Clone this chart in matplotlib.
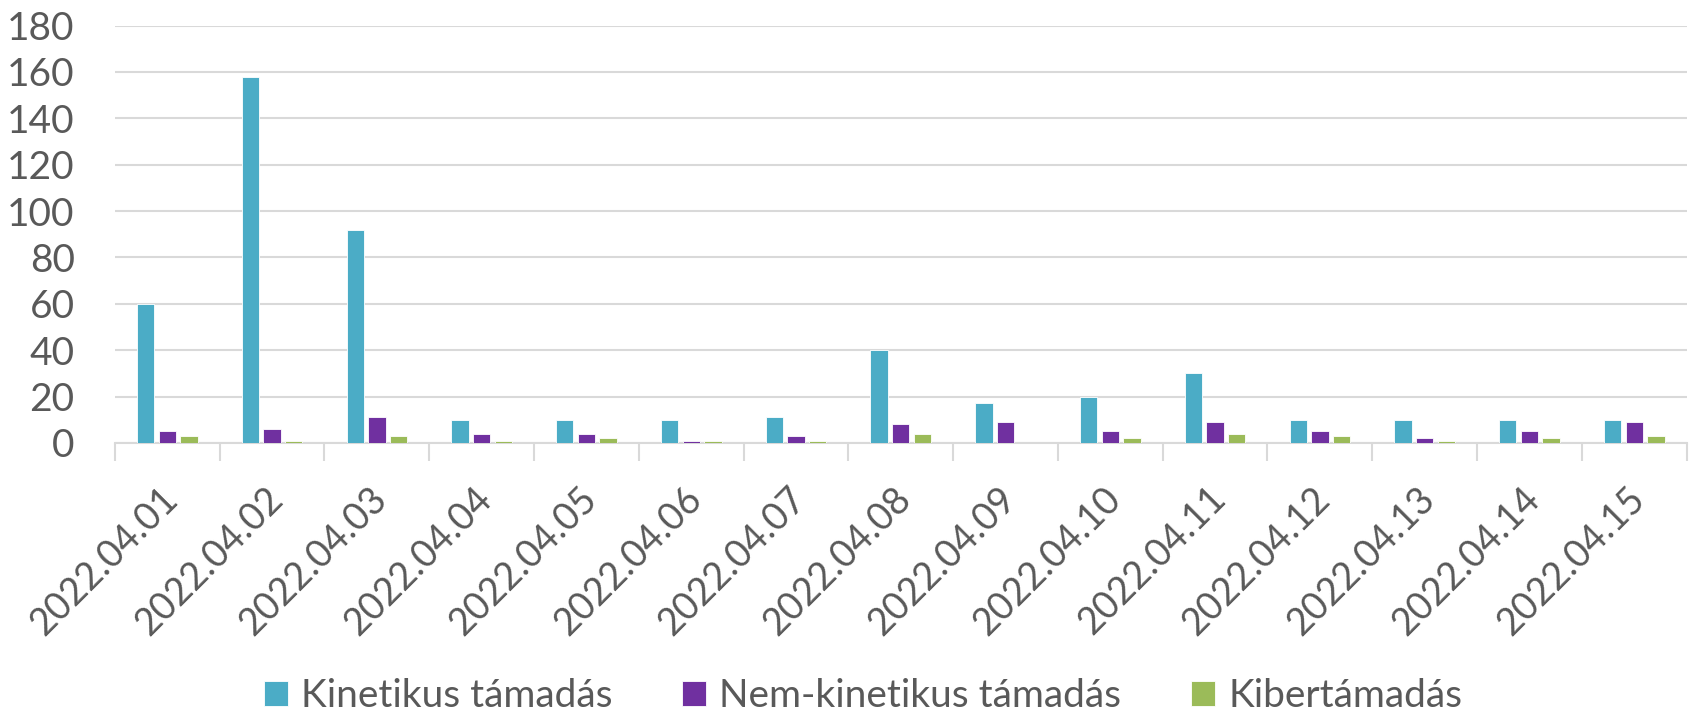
import matplotlib
matplotlib.use("Agg")
import matplotlib.pyplot as plt
import matplotlib.transforms as mtransforms
import numpy as np

dates = ["2022.04.01", "2022.04.02", "2022.04.03", "2022.04.04", "2022.04.05",
         "2022.04.06", "2022.04.07", "2022.04.08", "2022.04.09", "2022.04.10",
         "2022.04.11", "2022.04.12", "2022.04.13", "2022.04.14", "2022.04.15"]
kinetikus = [60, 158, 92, 10, 10, 10, 11, 40, 17, 20, 30, 10, 10, 10, 10]
nem_kinetikus = [5, 6, 11, 4, 4, 1, 3, 8, 9, 5, 9, 5, 2, 5, 9]
kiber = [3, 1, 3, 1, 2, 1, 1, 4, 0, 2, 4, 3, 1, 2, 3]
series_names = ["Kinetikus támadás", "Nem-kinetikus támadás", "Kibertámadás"]
colors = ["#4BACC6", "#7030A0", "#9BBB59"]
yticks = [0, 20, 40, 60, 80, 100, 120, 140, 160, 180]

plt.rcParams['font.family'] = ['Lato', 'DejaVu Sans']
text_color = "#595959"

fig = plt.figure(figsize=(16.9, 7.12), dpi=100)
ax = fig.add_axes([0.068, 0.378, 0.930, 0.586])

x = np.arange(len(dates))
w = 0.165
step = 0.207
for i, (vals, name, c) in enumerate(zip([kinetikus, nem_kinetikus, kiber], series_names, colors)):
    ax.bar(x + (i - 1) * step, vals, width=w, color=c, label=name,
           edgecolor="white", linewidth=0.6, zorder=3)

ax.set_xlim(-0.5, len(dates) - 0.5)
ax.set_ylim(0, 180)
ax.set_yticks(yticks)
ax.yaxis.grid(True, color="#D9D9D9", linewidth=1.5, zorder=0)
ax.tick_params(axis='y', length=0, pad=29, labelsize=28, labelcolor=text_color)

ax.set_xticks(x)
ax.set_xticklabels(dates, rotation=45, ha='right', rotation_mode='anchor')
ax.tick_params(axis='x', which='major', length=0, pad=27, labelsize=27, labelcolor=text_color)
offset = mtransforms.ScaledTranslation(-0.08, 0, fig.dpi_scale_trans)
for lbl in ax.get_xticklabels():
    lbl.set_transform(lbl.get_transform() + offset)
ax.set_xticks(np.arange(-0.5, len(dates), 1.0), minor=True)
ax.tick_params(axis='x', which='minor', length=13, width=1.5, color="#D9D9D9", direction='out')

for s in ['top', 'right', 'left']:
    ax.spines[s].set_visible(False)
ax.spines['bottom'].set_color("#D9D9D9")
ax.spines['bottom'].set_linewidth(1.5)

leg = fig.legend(loc='center', bbox_to_anchor=(0.5107, 0.0225), ncol=3, frameon=False,
                 fontsize=28, handlelength=0.62, handleheight=0.62, handletextpad=0.33,
                 columnspacing=1.8, labelcolor=text_color, borderpad=0, borderaxespad=0)

fig.savefig("out.png", dpi=100)
